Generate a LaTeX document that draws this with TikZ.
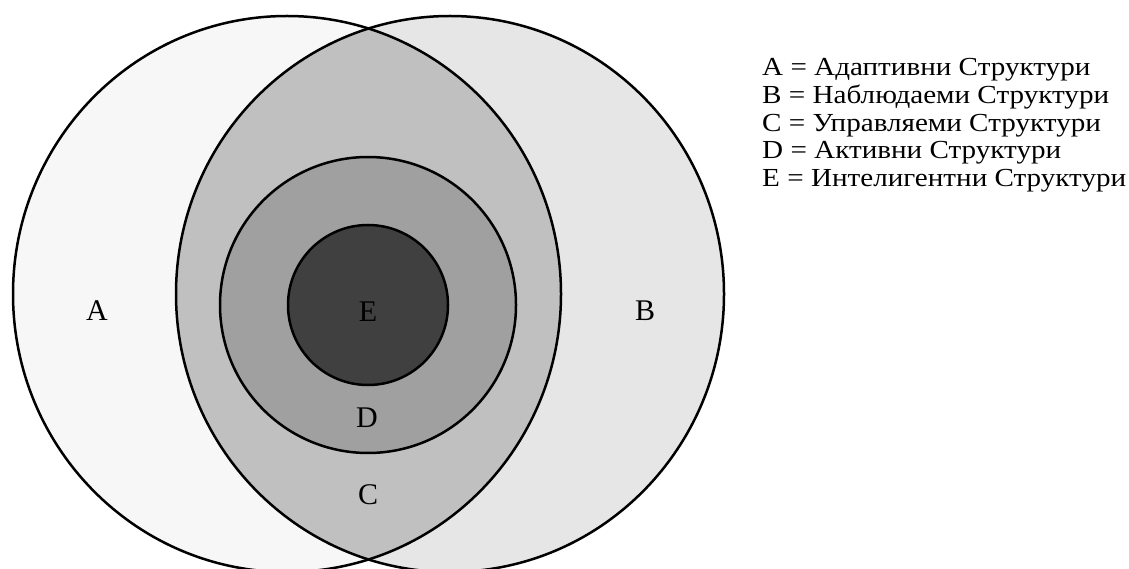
\documentclass[tikz,border=0pt]{standalone}
\usepackage{fontspec}
\setmainfont{Liberation Serif}
\usepackage{tikz}
\usetikzlibrary{positioning}
\definecolor{setA}{HTML}{F7F7F7}
\definecolor{setB}{HTML}{E6E6E6}
\definecolor{setC}{HTML}{C0C0C0}
\definecolor{setD}{HTML}{A0A0A0}
\definecolor{setE}{HTML}{404040}
\tikzset{
  every picture/.style={line join=round, line cap=round},
  rim/.style={draw=black, line width=2.5pt},
  setlabel/.style={font=\fontsize{30}{30}\selectfont, inner sep=0pt},
  legendline/.style={font=\fontsize{26}{26}\selectfont, xscale=1.12, anchor=base west, inner sep=0pt},
}

\begin{document}
\begin{tikzpicture}[x=1pt, y=-1pt]
\useasboundingbox (0,0) rectangle (1129,569);
\fill[white] (0,0) rectangle (1129,569);
% the two big sets
\fill[setA] (287,294) ellipse [x radius=274, y radius=278];
\fill[setB] (450,294) ellipse [x radius=274, y radius=278];
\begin{scope}
  \clip (287,294) ellipse [x radius=274, y radius=278];
  \fill[setC] (450,294) ellipse [x radius=274, y radius=278];
\end{scope}
% nested sets
\fill[setD] (368,305) circle (148);
\fill[setE] (368,305) circle (80);
\draw[rim] (287,294) ellipse [x radius=274, y radius=278];
\draw[rim] (450,294) ellipse [x radius=274, y radius=278];
\draw[rim] (368,305) circle (148);
\draw[rim] (368,305) circle (80);
% labels
\node[setlabel] (labA) at (97,311) {A};
\node[setlabel] (labB) at (645,311) {B};
\node[setlabel] (labE) at (368,312) {E};
\node[setlabel] (labD) at (367,418) {D};
\node[setlabel] (labC) at (368,495) {C};
% legend
\node[legendline] (legA) at (762,76) {A = Адаптивни Структури};
\node[legendline] (legB) at (762,104) {B = Наблюдаеми Структури};
\node[legendline] (legC) at (762,131.5) {C = Управляеми Структури};
\node[legendline] (legD) at (762,159) {D = Активни Структури};
\node[legendline] (legE) at (762,187) {E = Интелигентни Структури};
\end{tikzpicture}
\end{document}
